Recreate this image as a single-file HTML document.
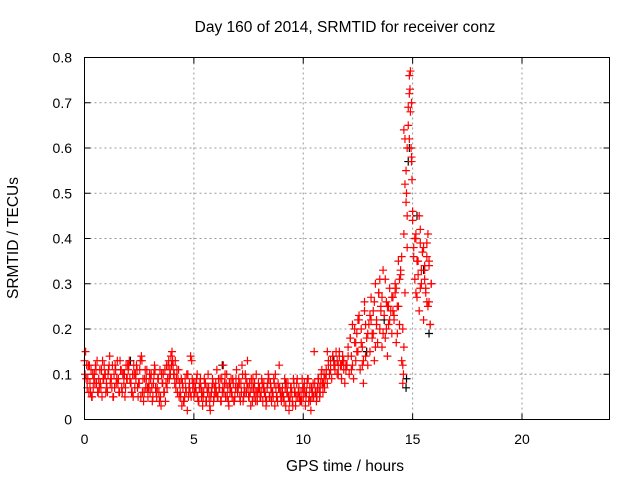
<!DOCTYPE html>
<html><head><meta charset="utf-8"><style>
html,body{margin:0;padding:0;background:#fff;}
svg{display:block;font-family:"Liberation Sans",sans-serif;font-size:14px;}
.big{font-size:15.5px;}
</style></head><body>
<svg id="chart" width="640" height="480" viewBox="0 0 640 480">
<rect x="0" y="0" width="640" height="480" fill="#fff"/>
<text class="big" x="345" y="32" text-anchor="middle" fill="#000">Day 160 of 2014, SRMTID for receiver conz</text>
<text class="big" x="18" y="238" text-anchor="middle" transform="rotate(-90 18 238)" fill="#000">SRMTID / TECUs</text>
<text class="big" x="345" y="471" text-anchor="middle" fill="#000">GPS time / hours</text>
<g id="grid"></g>
<g id="ticks"></g>
<g id="black"></g>
<g id="red"></g>
<rect x="84.5" y="57.5" width="525" height="362" fill="none" stroke="#000" stroke-width="1"/>
</svg>
<script>
const xTicks=[0,5,10,15,20];
const yTicks=[0,0.1,0.2,0.3,0.4,0.5,0.6,0.7,0.8];
const yTickLabels=["0","0.1","0.2","0.3","0.4","0.5","0.6","0.7","0.8"];
const baseValues=[
0.13,0.15,0.12,0.09,0.06,0.08,0.11,0.05,0.07,0.10,0.12,0.08,0.06,0.09,0.11,0.07,0.05,0.09,0.12,0.10,
0.08,0.06,0.11,0.14,0.09,0.07,0.05,0.10,0.12,0.08,0.13,0.09,0.06,0.11,0.07,0.10,0.08,0.05,0.12,0.09,
0.11,0.13,0.08,0.06,0.10,0.12,0.07,0.09,0.11,0.05,0.08,0.13,0.14,0.06,0.04,0.09,0.07,0.11,0.05,0.08,
0.06,0.10,0.04,0.08,0.12,0.07,0.05,0.09,0.06,0.11,0.03,0.08,0.10,0.06,0.04,0.12,0.09,0.13,0.11,0.14,
0.15,0.12,0.10,0.13,0.09,0.06,0.11,0.08,0.05,0.03,0.07,0.04,0.09,0.06,0.02,0.05,0.08,0.14,0.13,0.07,
0.05,0.08,0.06,0.10,0.04,0.07,0.09,0.05,0.03,0.06,0.08,0.04,0.07,0.10,0.05,0.02,0.06,0.09,0.04,0.07,
0.08,0.11,0.05,0.07,0.09,0.04,0.06,0.12,0.08,0.05,0.10,0.07,0.03,0.06,0.09,0.05,0.08,0.04,0.07,0.11,
0.06,0.09,0.05,0.08,0.12,0.04,0.07,0.10,0.06,0.13,0.05,0.08,0.03,0.07,0.09,0.05,0.06,0.10,0.04,0.08,
0.07,0.05,0.09,0.04,0.08,0.06,0.03,0.07,0.10,0.05,0.08,0.04,0.06,0.09,0.03,0.07,0.05,0.08,0.12,0.06,
0.04,0.07,0.05,0.09,0.03,0.06,0.08,0.02,0.05,0.07,0.04,0.09,0.06,0.03,0.08,0.05,0.07,0.04,0.06,0.09,
0.05,0.08,0.03,0.06,0.09,0.04,0.07,0.02,0.05,0.08,0.15,0.06,0.04,0.07,0.09,0.05,0.08,0.11,0.06,0.10,
0.09,0.11,0.08,0.12,0.10,0.13,0.09,0.14,0.12,0.11,0.15,0.13,0.10,0.14,0.12,0.09,0.13,0.11,0.08,0.12,
0.12,0.16,0.10,0.18,0.14,0.21,0.09,0.17,0.13,0.19,0.15,0.23,0.11,0.20,0.16,0.08,0.24,0.14,0.18,0.12,
0.21,0.15,0.27,0.19,0.24,0.13,0.30,0.22,0.17,0.28,0.20,0.25,0.16,0.33,0.23,0.18,0.26,0.14,0.21,0.29,
0.24,0.19,0.27,0.22,0.30,0.17,0.25,0.35,0.21,0.32,0.13,0.08,0.41,0.52,0.48,0.60,0.65,0.72,0.77,0.57,
0.44,0.38,0.31,0.40,0.27,0.35,0.24,0.42,0.30,0.37,0.22,0.33,0.28,0.39,0.25,0.34,0.21,0.30];
const baseStart=0.0, baseStep=0.05;
const denseValues=[
0.10,0.07,0.12,0.05,0.09,0.11,0.06,0.08,0.13,0.10,
0.07,0.12,0.09,0.05,0.11,0.08,0.13,0.06,0.10,0.09,
0.12,0.08,0.05,0.10,0.07,0.11,0.13,0.06,0.09,0.07,
0.09,0.05,0.11,0.07,0.04,0.10,0.06,0.08,0.12,0.10,
0.13,0.08,0.11,0.05,0.09,0.04,0.07,0.10,0.06,0.09,
0.06,0.09,0.04,0.07,0.05,0.08,0.06,0.03,0.07,0.05,
0.06,0.09,0.04,0.07,0.10,0.05,0.08,0.06,0.04,0.09,
0.07,0.04,0.10,0.06,0.08,0.05,0.09,0.07,0.04,0.06,
0.05,0.08,0.06,0.04,0.09,0.07,0.05,0.10,0.04,0.07,
0.06,0.04,0.08,0.05,0.07,0.03,0.06,0.09,0.05,0.04,
0.07,0.05,0.09,0.04,0.06,0.08,0.05,0.07,0.10,0.08];
const denseStart=0.025, denseStep=0.1;
const dense2Values=[
0.09,0.12,0.06,0.10,0.08,0.13,0.07,0.11,0.09,0.06,
0.10,0.08,0.12,0.07,0.09,0.06,0.11,0.10,0.07,0.12,
0.09,0.06,0.10,0.12,0.08,0.05,0.09,0.11,0.07,0.10,
0.07,0.10,0.06,0.09,0.05,0.08,0.11,0.07,0.09,0.12,
0.10,0.07,0.09,0.06,0.08,0.05,0.10,0.07,0.05,0.08,
0.07,0.05,0.08,0.06,0.09,0.04,0.07,0.05,0.08,0.06,
0.05,0.07,0.09,0.06,0.08,0.04,0.07,0.09,0.05,0.07,
0.08,0.06,0.05,0.09,0.07,0.06,0.04,0.08,0.06,0.07,
0.06,0.07,0.05,0.08,0.05,0.06,0.08,0.05,0.07,0.05,
0.05,0.07,0.06,0.04,0.06,0.08,0.05,0.06,0.04,0.07,
0.06,0.08,0.05,0.07,0.05,0.06,0.09,0.06,0.08,0.07];
const dense2Start=0.075, dense2Step=0.1;
const lateValues=[
0.10,0.13,0.11,0.14,0.12,0.10,0.15,0.12,0.13,0.11,
0.14,0.18,0.12,0.20,0.15,0.22,0.17,0.13,0.21,0.19,
0.23,0.18,0.26,0.21,0.28,0.24,0.19,0.31,0.25,0.22,
0.27,0.23,0.29,0.25,0.33,0.20,0.28,0.38,0.62,0.70,
0.36,0.41,0.32,0.29,0.37,0.31,0.26,0.35,0.30];
const lateStart=11.05, lateStep=0.1;
const extraTimes=[14.6,14.65,14.7,14.72,14.75,14.8,14.85,14.88,14.9,14.93,14.95,14.97,15.0,14.55,14.58,14.6,14.5,14.4,15.1,15.2,15.3,15.4,15.5,15.6,15.7,15.75,15.8,13.5,13.6,11.1,12.5,12.8,13.2,13.9,14.2,11.6,11.8,12.2,12.4,12.7,13.1,13.3,13.8,14.1,14.3,15.15,15.35,15.55,15.65];
const extraValues=[0.64,0.62,0.55,0.50,0.45,0.69,0.76,0.73,0.68,0.60,0.58,0.53,0.46,0.12,0.10,0.16,0.36,0.31,0.40,0.35,0.45,0.33,0.38,0.29,0.41,0.26,0.21,0.31,0.27,0.15,0.22,0.26,0.19,0.25,0.28,0.12,0.14,0.11,0.17,0.12,0.22,0.16,0.20,0.24,0.19,0.28,0.39,0.34,0.36];
const blackTimes=[14.8,14.85,15.2,14.7,14.72,15.75,11.4,2.1,6.3,9.2,12.9,13.7,15.5];
const blackValues=[0.57,0.60,0.45,0.07,0.09,0.19,0.13,0.13,0.12,0.08,0.15,0.22,0.33];

const X0=84.5,X1=609.5,Y0=419.5,Y1=57.5;
const xs=v=>X0+(v/24)*(X1-X0);
const ys=v=>Y0-(v/0.8)*(Y0-Y1);
const NS="http://www.w3.org/2000/svg";
function mk(tag,attrs,parent){const e=document.createElementNS(NS,tag);for(const k in attrs)e.setAttribute(k,attrs[k]);parent.appendChild(e);return e;}
const grid=document.getElementById('grid'),ticks=document.getElementById('ticks');
yTicks.forEach((v,i)=>{
  const y=ys(v);
  if(i>0&&i<yTicks.length-1){const g=mk('line',{x1:X0,x2:X1,y1:y,y2:y,stroke:'#999','stroke-dasharray':'2,3'},grid);
  
  }
  mk('line',{x1:X0,x2:X0+6,y1:y,y2:y,stroke:'#000'},ticks);
  mk('line',{x1:X1,x2:X1-6,y1:y,y2:y,stroke:'#000'},ticks);
  const t=mk('text',{x:72,y:y+5,'text-anchor':'end',fill:'#000'},ticks);
  t.textContent=yTickLabels[i];
  
  
});
xTicks.forEach(v=>{
  const x=xs(v);
  if(v>0){const g=mk('line',{x1:x,x2:x,y1:Y0,y2:Y1,stroke:'#999','stroke-dasharray':'2,3'},grid);
  
  }
  mk('line',{x1:x,x2:x,y1:Y0,y2:Y0-6,stroke:'#000'},ticks);
  mk('line',{x1:x,x2:x,y1:Y1,y2:Y1+6,stroke:'#000'},ticks);
  const t=mk('text',{x:x,y:444,'text-anchor':'middle',fill:'#000'},ticks);
  t.textContent=String(v);
  
  
});
function plus(g,t,v,col){
  const x=xs(t),y=ys(v);
  const p=mk('path',{d:`M${x-4} ${y}H${x+4}M${x} ${y-4}V${y+4}`,stroke:col,'stroke-width':1.2,fill:'none'},g);
  
  
}
const bg=document.getElementById('black'),rg=document.getElementById('red');
blackTimes.forEach((t,i)=>plus(bg,t,blackValues[i],'#000'));
baseValues.forEach((v,i)=>plus(rg,baseStart+i*baseStep,v,'#f00'));
denseValues.forEach((v,i)=>plus(rg,denseStart+i*denseStep,v,'#f00'));
dense2Values.forEach((v,i)=>plus(rg,dense2Start+i*dense2Step,v,'#f00'));
lateValues.forEach((v,i)=>plus(rg,lateStart+i*lateStep,v,'#f00'));
extraTimes.forEach((t,i)=>plus(rg,t,extraValues[i],'#f00'));
</script>
</body></html>
